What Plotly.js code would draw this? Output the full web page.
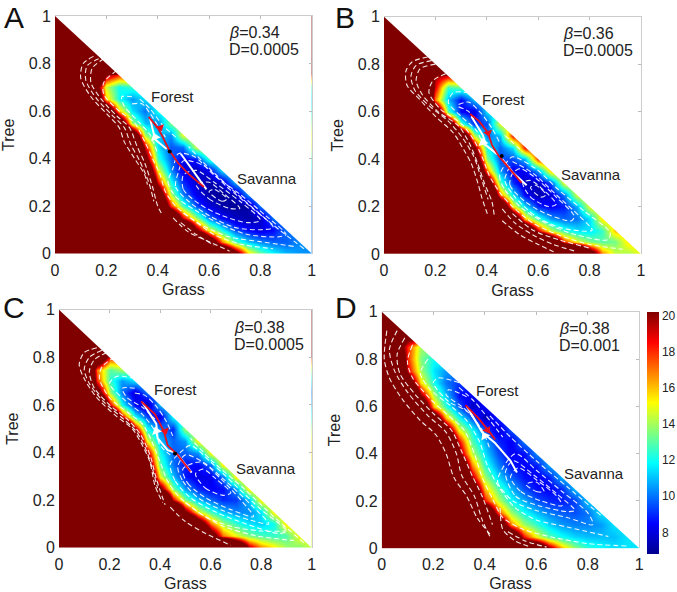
<!DOCTYPE html>
<html><head><meta charset="utf-8">
<script src="https://cdn.plot.ly/plotly-3.0.1.min.js"></script>
<style>html,body{margin:0;padding:0;background:#fff}#p{width:677px;height:592px}</style>
</head><body><div id="p"></div>
<script>
const gridX = [0,.05,.1,.15,.2,.25,.3,.35,.4,.45,.5,.55,.6,.65,.7,.75,.8,.85,.9,.95,1];
const gridY = gridX;
// each row: index of first listed grass cell, then the values read along that row
const rowsA = [
[13,31,23,16,13.5,12,11,10.5,10.3],
[11,34,25,17,13,11.2,10.3,9.8,9.7,10.3],
[10,33,21,15,12,9.6,8.5,8,8.5,10],
[8,36,28,19,14,10,8.5,7.6,7.2,7.6,10],
[7,36,28,18,12.8,9.5,8,7.2,6.9,7.2,10],
[7,34,24,14,10,8.2,7.2,6.9,7.5,10.5],
[6,38,32,18.5,12,9,7.8,7.2,7.8,10.8],
[6,38,27,15,10.3,8,7.5,8.3,11.5],
[6,32,22,12.5,9.8,8.2,8.8,12.5],
[5,40,32,19,11.5,9.6,10,14.5],
[5,36,26,14,11,10.4,15],
[4,36,26,14,11,10.3,13.5],
[3,38,27,16,11.5,10,12],
[2,40,28,16,12,10.5,11.5],
[2,38,24,14.5,12,12.5],
[2,40,32,20,18],
[3,36,36],[3,40],[3,40],[3,40],[3,40]];
const rowsB = [
[14,40,36,24,17,14.5,14,15],
[12,36,27,18,15,13.5,13,13.3,15.5],
[10,36,28,19,14.5,12.5,11.5,11.5,12.5,16],
[9,36,26,16,12.5,10.5,9.8,10,11.5,15.5],
[8,38,27,15.5,11.5,9,8.4,8.8,10.8,15],
[7,40,31,17,11.5,8.4,7.3,8,10,14.8],
[7,34,24,13,9,7.5,7.6,9.5,15],
[6,40,30,17,10.5,8.2,8.4,10.5,16],
[6,36,25,13.5,9.5,9.5,11,18],
[6,32,21,12,9.8,11.5,18.5],
[5,38,28,14.5,10,11,18.5],
[4,36,26,13,9,9.5,15],
[3,38,26,13,8.5,8,11.5],
[2,40,31,17,11,8.5,11],
[2,40,33,19,12.5,13],
[2,42,36,20,19],
[3,40,40],[3,42],[3,42],[3,42],[3,42]];
const rowsC = [
[13,40,30,20,17,15.5,14,13.5,14.5],
[10,40,34,23,17,15,13.5,12.8,12.5,12.8,15],
[10,34,24,17,14,12.5,11.5,11.2,12,15.5],
[8,44,35,21,15,12.5,11,10.3,10.3,11.5,15.5],
[7,42,35,19,13.5,11,9.8,9,9.2,11,15.5],
[7,32,21.5,13.5,10.5,9,8.4,8.6,10.5,15.5],
[6,38,27,15,11,8.8,8,8.2,10,15.5],
[6,34,23,13,10,8.7,8.5,10,15.5],
[5,40,32,20,12,9.8,9.7,10.5,15.5],
[5,38,27,15,11,9.8,10.5,15.5],
[4,42,34,20,12,10.2,9,14],
[3,42,32,19,12,9.5,8,12],
[2,42,33,19,12,8.5,7.3,11],
[1,42,38,23,14,10,7.8,10],
[1,42,33,18,12.5,10.5,11.5],
[1,42,32,17,13,14],
[1,46,40,26,18],
[1,46,42,38],[1,46,44],[1,46],[1,46]];
const rowsD = [
[12,28,21,16.5,14,12.5,12,11.5,11.5,11.5],
[9,36,27,18.5,15,13,12,11.3,11,11,11,11.5],
[8,36,26,17,14,12.5,11.3,10.5,10.2,10.2,10.5,11.5],
[7,38,28,18,14,12,11,10.2,9.7,9.5,10,11.5],
[7,30,18.5,14.5,12,10.8,9.6,9,8.8,9.3,11.2],
[6,38,25,16,13,11,9.5,8.6,8.4,9,11],
[6,32,20,14,11.5,9.8,8.7,8.3,8.8,10.8],
[5,38,27,17,12.5,10.3,8.8,8.4,8.8,10.6],
[5,33,21,14.5,11.5,9.5,8.4,8.6,10.3],
[4,38,29,19,13,10.8,9,8.3,10],
[4,33,23,15,12,9.6,7.8,9.5],
[3,36,25,16,12,9.6,7.3,9],
[2,38,27,16,12.5,9.6,7.6,8.5],
[2,33,20,14,11,8.6,8.3],
[1,37,24,15.5,12,10,9.2],
[1,33,19,14,11.5,10.5],
[0,40,30,18,13.5,12],
[0,38,24,18,14],
[0,35,27,22],
[0,35,32],
[0,35]];

const flowA = [
[[.15,.83],[.11,.80],[.10,.74],[.14,.66],[.20,.59],[.25,.53],[.27,.47],[.31,.40],[.35,.33],[.36,.29]],
[[.19,.82],[.145,.78],[.14,.72],[.18,.65],[.24,.58],[.29,.53],[.32,.45],[.35,.38],[.38,.28],[.40,.2],[.42,.16]],
[[.17,.82],[.125,.79],[.12,.73],[.16,.655],[.22,.585],[.27,.53],[.295,.46],[.33,.39],[.365,.3],[.385,.22]],
[[.46,.15],[.52,.09],[.6,.05],[.68,.01]],
[[.49,.13],[.55,.08],[.62,.035]],
[[.24,.77],[.19,.72],[.19,.67],[.25,.60],[.31,.55],[.35,.47],[.38,.40],[.41,.33],[.43,.26],[.47,.20],[.54,.14],[.62,.08],[.72,.04],[.85,.02]],
[[.50,.17],[.58,.115],[.68,.07],[.8,.05],[.93,.03]],
[[.30,.66],[.26,.66],[.27,.62],[.33,.55],[.37,.50],[.40,.42]],
[[.30,.63],[.34,.63],[.37,.59],[.40,.54],[.43,.49]],
[[.33,.65],[.37,.61],[.42,.54],[.47,.49]],
[[.97,.02],[.85,.12],[.72,.24],[.6,.36],[.52,.45]],
[[.46,.36],[.44,.30],[.47,.24],[.55,.18],[.65,.12],[.75,.08],[.87,.07],[.90,.08],[.82,.16],[.72,.25],[.62,.33],[.54,.41],[.48,.42],[.46,.36]],
[[.48,.34],[.47,.28],[.52,.22],[.6,.16],[.7,.11],[.8,.1],[.85,.11],[.77,.19],[.67,.28],[.58,.37],[.5,.39],[.48,.34]],
[[.50,.33],[.50,.27],[.56,.21],[.65,.16],[.75,.13],[.80,.14],[.72,.22],[.62,.30],[.55,.35],[.50,.33]],
[[.55,.29],[.60,.23],[.68,.19],[.72,.19],[.66,.25],[.60,.30],[.55,.29]],
[[.60,.26],[.65,.22],[.67,.23],[.62,.27],[.60,.26]]];
const flowB = [
[[.17,.83],[.11,.81],[.085,.77],[.09,.71],[.14,.65],[.2,.58],[.27,.51],[.31,.44],[.34,.38],[.365,.30],[.38,.24],[.405,.16]],
[[.2,.80],[.14,.78],[.125,.73],[.15,.67],[.21,.60],[.29,.54],[.335,.46],[.365,.38],[.39,.30],[.42,.22],[.43,.155]],
[[.185,.815],[.125,.795],[.105,.75],[.12,.69],[.175,.625],[.25,.56],[.305,.49],[.35,.41],[.375,.33],[.405,.23]],
[[.46,.19],[.51,.13],[.58,.08],[.66,.04],[.75,.01]],
[[.46,.14],[.53,.08],[.6,.04],[.66,.01]],
[[.24,.76],[.19,.73],[.175,.68],[.22,.61],[.3,.55],[.35,.48],[.385,.40],[.41,.33],[.45,.26],[.5,.2],[.58,.13],[.68,.08],[.8,.04],[.93,.02]],
[[.5,.17],[.58,.1],[.68,.06],[.8,.025]],
[[.33,.68],[.27,.68],[.25,.64],[.3,.58],[.36,.52],[.39,.46],[.44,.43]],
[[.29,.63],[.33,.64],[.38,.59],[.42,.53],[.45,.47]],
[[.29,.62],[.33,.6],[.35,.56]],
[[.47,.5],[.5,.47],[.54,.43]],
[[.48,.39],[.45,.33],[.47,.27],[.54,.19],[.63,.13],[.75,.08],[.87,.06],[.88,.09],[.78,.18],[.68,.27],[.59,.36],[.5,.41],[.48,.39]],
[[.49,.37],[.47,.31],[.51,.24],[.59,.16],[.69,.11],[.81,.1],[.76,.16],[.67,.25],[.58,.34],[.5,.39]],
[[.5,.34],[.49,.29],[.55,.22],[.63,.17],[.73,.14],[.74,.16],[.67,.24],[.59,.32],[.53,.36],[.5,.34]],
[[.54,.3],[.57,.24],[.64,.2],[.67,.21],[.62,.27],[.57,.31],[.54,.3]],
[[.57,.28],[.61,.24],[.63,.25],[.59,.29],[.57,.28]]];
const flowC = [
[[.15,.84],[.1,.82],[.08,.77],[.1,.71],[.15,.63],[.23,.55],[.29,.5],[.33,.43],[.36,.36],[.38,.26],[.41,.19]],
[[.19,.82],[.14,.79],[.12,.74],[.14,.67],[.2,.6],[.27,.54],[.32,.48],[.36,.39],[.38,.31],[.4,.24],[.42,.18]],
[[.17,.83],[.12,.8],[.1,.75],[.12,.69],[.175,.615],[.25,.545],[.305,.49],[.345,.41],[.37,.33],[.39,.25]],
[[.44,.17],[.5,.11],[.58,.06],[.68,.01]],
[[.22,.8],[.17,.76],[.16,.71],[.2,.63],[.27,.57],[.33,.52],[.37,.44],[.4,.36],[.43,.28],[.47,.22],[.55,.15],[.65,.09],[.78,.05],[.93,.03]],
[[.5,.19],[.58,.13],[.68,.09],[.8,.07],[.9,.07]],
[[.3,.71],[.23,.72],[.2,.69],[.26,.62],[.33,.56],[.38,.49],[.4,.43],[.44,.39]],
[[.3,.67],[.25,.67],[.27,.63],[.33,.59],[.38,.54]],
[[.3,.65],[.34,.64],[.38,.6],[.42,.54],[.45,.47]],
[[.97,.02],[.85,.13],[.73,.25],[.6,.37],[.52,.46]],
[[.44,.35],[.46,.28],[.52,.21],[.62,.15],[.74,.1],[.87,.06],[.9,.07],[.8,.16],[.7,.26],[.6,.36],[.52,.43],[.48,.4],[.44,.35]],
[[.47,.34],[.49,.28],[.55,.21],[.65,.155],[.76,.115],[.83,.1],[.76,.18],[.66,.28],[.57,.36],[.5,.39],[.47,.34]],
[[.49,.33],[.51,.27],[.58,.21],[.68,.16],[.77,.13],[.72,.2],[.64,.29],[.56,.36],[.49,.33]],
[[.54,.31],[.58,.25],[.65,.22],[.68,.23],[.62,.29],[.57,.33],[.54,.31]]];
const flowD = [
[[.02,.92],[.01,.8],[.03,.72],[.08,.63],[.15,.54],[.21,.48],[.25,.4],[.28,.3],[.33,.22],[.37,.13],[.42,.06]],
[[.06,.92],[.03,.84],[.05,.75],[.1,.66],[.18,.56],[.25,.49],[.29,.4],[.31,.31],[.36,.22],[.39,.12],[.42,.05]],
[[.09,.89],[.06,.82],[.07,.74],[.13,.65],[.2,.57],[.27,.5],[.31,.41],[.35,.31],[.39,.22],[.43,.1]],
[[.46,.17],[.47,.08],[.52,.03],[.58,.005]],
[[.49,.07],[.56,.03],[.64,.005]],
[[.12,.86],[.1,.79],[.12,.72],[.19,.63],[.26,.56],[.32,.5],[.36,.4],[.39,.3],[.43,.21],[.47,.13],[.55,.08],[.65,.05],[.8,.02],[.95,.01]],
[[.18,.8],[.15,.74],[.19,.67],[.27,.6],[.33,.54],[.38,.45],[.41,.35],[.46,.25],[.52,.17],[.6,.12],[.72,.09],[.88,.05]],
[[.3,.7],[.22,.72],[.2,.7],[.26,.62],[.33,.58],[.39,.5],[.42,.42]],
[[.33,.64],[.26,.67],[.25,.65],[.31,.6],[.36,.55]],
[[.42,.56],[.5,.47],[.6,.37],[.72,.26],[.85,.14]],
[[.3,.68],[.36,.62],[.42,.54],[.47,.47]],
[[.47,.34],[.45,.28],[.51,.2],[.6,.16],[.72,.13],[.82,.1],[.8,.15],[.7,.24],[.6,.33],[.52,.4],[.47,.34]],
[[.48,.32],[.52,.22],[.61,.18],[.72,.155],[.75,.16],[.68,.23],[.59,.31],[.51,.37],[.48,.32]],
[[.5,.3],[.54,.24],[.62,.2],[.7,.18],[.68,.22],[.6,.29],[.53,.34],[.5,.3]],
[[.56,.27],[.6,.24],[.63,.24],[.6,.28],[.56,.27]]];

const redPaths = [
[[.365,.575],[.40,.53],[.42,.49],[.445,.435],[.48,.38],[.52,.335],[.58,.28]],
[[.335,.59],[.37,.56],[.405,.51],[.42,.46],[.445,.415],[.48,.37],[.535,.30]],
[[.325,.615],[.38,.56],[.415,.49],[.43,.43],[.46,.40],[.47,.39],[.52,.32]],
[[.325,.605],[.375,.55],[.42,.49],[.44,.46]]];
const whitePaths = [
[[.37,.57],[.39,.48],[.435,.44],null,[.49,.42],[.53,.36],[.59,.27]],
[[.34,.58],[.385,.50],[.395,.46],[.44,.42],null,[.46,.40],[.50,.345],[.555,.29]],
[[.33,.61],[.385,.52],[.39,.46],[.43,.41],[.46,.40],null,[.47,.39],[.525,.315]],
[[.33,.60],[.39,.49],[.44,.445],[.5,.37],[.525,.32]]];
const saddles = [[.447,.43],[.458,.413],[.459,.396],null];
const redHeads = [[.41,.53],[.405,.51],[.42,.49],[.41,.50]];
const whiteHeads = [[.39,.49],[.385,.47],[.385,.49],[.40,.475]];
const headAngles = [160,165,160,150];

const betas = ['0.34','0.36','0.38','0.38'];
const diffs = ['0.0005','0.0005','0.0005','0.001'];
const letters = ['A','B','C','D'];
const forestAt = [[.368,.66],[.375,.649],[.368,.665],[.357,.665]];
const savannaAt = [[.702,.316],[.68,.336],[.691,.333],[.70,.317]];
const betaAt = [[.67,.93],[.69,.93],[.685,.926],[.68,.93]];
const ticks = [0,.2,.4,.6,.8,1];
const tickText = ['0','0.2','0.4','0.6','0.8','1'];
const barTicks = [8,10,12,14,16,18,20];
const jet = [[0,'#00008F'],[.125,'#0000FF'],[.375,'#00FFFF'],[.625,'#FFFF00'],[.875,'#FF0000'],[1,'#800000']];

// panel frames in pixels of the 677x592 page: left,right,top,bottom
const frames = [[55,311.7,16,253.5],[384,641,16.7,254],[59,311.7,309.7,547.7],[381.7,639.3,311.7,548.3]];
const letterAt = [[3,0],[334,0],[2,290],[334,290]];
const W=677,H=592;
const expand = r => { const a=Array(r[0]).fill(r[1]).concat(r.slice(1)); while(a.length<21)a.push(a[a.length-1]); return a; };
const flat = ls => { const xs=[],ys=[]; ls.forEach(l=>{l.forEach(p=>{xs.push(p?p[0]:null);ys.push(p?p[1]:null);});xs.push(null);ys.push(null);}); return [xs,ys]; };
const font='"Liberation Sans",Arial,sans-serif', ink='#222';

const traces=[], ann=[], layout={width:W,height:H,margin:{l:0,r:0,t:0,b:0},paper_bgcolor:'#fff',plot_bgcolor:'#fff',showlegend:false,
  font:{family:font,size:16,color:ink},
  coloraxis:{cmin:6.8,cmax:20.2,colorscale:jet,colorbar:{x:646.7/W,xanchor:'left',y:1-312/H,yanchor:'top',len:242/H,lenmode:'fraction',
    thickness:11.5,thicknessmode:'pixels',xpad:0,ypad:0,tickvals:barTicks,ticks:'',tickfont:{size:12,family:font,color:ink},outlinewidth:0,ticklabelposition:'outside'}}};
const rows=[rowsA,rowsB,rowsC,rowsD], flows=[flowA,flowB,flowC,flowD];
rows.forEach((rs,i)=>{
  const n=i+1, sx=n===1?'':n, xa='x'+sx, ya='y'+sx, ox='x'+(n+4), oy='y'+(n+4), f=frames[i];
  traces.push({type:'heatmap',x:gridX,y:gridY,z:rs.map(expand),coloraxis:'coloraxis',zsmooth:'best',xaxis:xa,yaxis:ya,hoverinfo:'skip'});
  traces.push({type:'scatter',mode:'lines',x:[0,1,1,0],y:[1,0,1,1],fill:'toself',fillcolor:'#fff',line:{width:0},xaxis:xa,yaxis:ya,hoverinfo:'skip'});
  const fl=flat(flows[i]);
  traces.push({type:'scatter',mode:'lines',x:fl[0],y:fl[1],line:{color:'rgba(255,255,255,.9)',width:1.1,dash:'5px,3px',shape:'spline',smoothing:.8},xaxis:xa,yaxis:ya,hoverinfo:'skip'});
  const wp=flat([whitePaths[i]]), rp=flat([redPaths[i]]);
  traces.push({type:'scatter',mode:'lines',x:wp[0],y:wp[1],line:{color:'#fff',width:2},xaxis:xa,yaxis:ya,hoverinfo:'skip'});
  traces.push({type:'scatter',mode:'lines',x:rp[0],y:rp[1],line:{color:'#e8101c',width:1.8},xaxis:xa,yaxis:ya,hoverinfo:'skip'});
  traces.push({type:'scatter',mode:'markers',x:[redHeads[i][0]],y:[redHeads[i][1]],marker:{symbol:'triangle-up',size:8,color:'#e8101c',angle:headAngles[i]},xaxis:xa,yaxis:ya,hoverinfo:'skip'});
  traces.push({type:'scatter',mode:'markers',x:[whiteHeads[i][0]],y:[whiteHeads[i][1]],marker:{symbol:'triangle-up',size:9,color:'#fff',angle:headAngles[i]-180},xaxis:xa,yaxis:ya,hoverinfo:'skip'});
  if(saddles[i]) traces.push({type:'scatter',mode:'markers',x:[saddles[i][0]],y:[saddles[i][1]],marker:{size:4,color:'#000'},xaxis:xa,yaxis:ya,hoverinfo:'skip'});
  traces.push({type:'scatter',mode:'markers',x:[],y:[],xaxis:ox,yaxis:oy,hoverinfo:'skip'});
  layout['xaxis'+sx]={domain:[f[0]/W,f[1]/W],range:[0,1],anchor:ya,tickvals:ticks,ticktext:tickText,ticks:'',ticklabelstandoff:5,showgrid:false,zeroline:false,showline:false,
    tickfont:{size:16,color:ink,family:font},title:{text:'Grass',font:{size:16,color:ink,family:font},standoff:6},automargin:false};
  layout['yaxis'+sx]={domain:[1-f[3]/H,1-f[2]/H],range:[0,1],anchor:xa,tickvals:ticks,ticktext:tickText,ticks:'',ticklabelstandoff:3,showgrid:false,zeroline:false,showline:false,
    tickfont:{size:16,color:ink,family:font},title:{text:'Tree',font:{size:16,color:ink,family:font},standoff:10},automargin:false};
  layout['xaxis'+(n+4)]={overlaying:xa,side:'top',range:[0,1],anchor:oy,tickvals:ticks,ticks:'inside',ticklen:3,tickcolor:'#bbb',showticklabels:false,showgrid:false,zeroline:false,showline:true,linecolor:'#ccc',linewidth:1};
  layout['yaxis'+(n+4)]={overlaying:ya,side:'right',range:[0,1],anchor:ox,tickvals:ticks,ticks:'inside',ticklen:3,tickcolor:'#bbb',showticklabels:false,showgrid:false,zeroline:false,showline:true,linecolor:'#ccc',linewidth:1};
  const cell=(t,p,size)=>ann.push({text:t,x:p[0],y:p[1],xref:xa,yref:ya,xanchor:'left',yanchor:'middle',showarrow:false,font:{size:size,color:ink,family:font}});
  cell('<i>β</i>='+betas[i],betaAt[i],16);
  cell('D='+diffs[i],[betaAt[i][0],betaAt[i][1]-.073],16);
  cell('Forest',forestAt[i],15);
  cell('Savanna',savannaAt[i],15);
  ann.push({text:letters[i],x:letterAt[i][0]/W,y:1-letterAt[i][1]/H,xref:'paper',yref:'paper',xanchor:'left',yanchor:'top',showarrow:false,borderpad:0,font:{size:30,color:'#111',family:font}});
});
layout.annotations=ann;
Plotly.newPlot('p',traces,layout,{displayModeBar:false,staticPlot:true});
</script></body></html>
